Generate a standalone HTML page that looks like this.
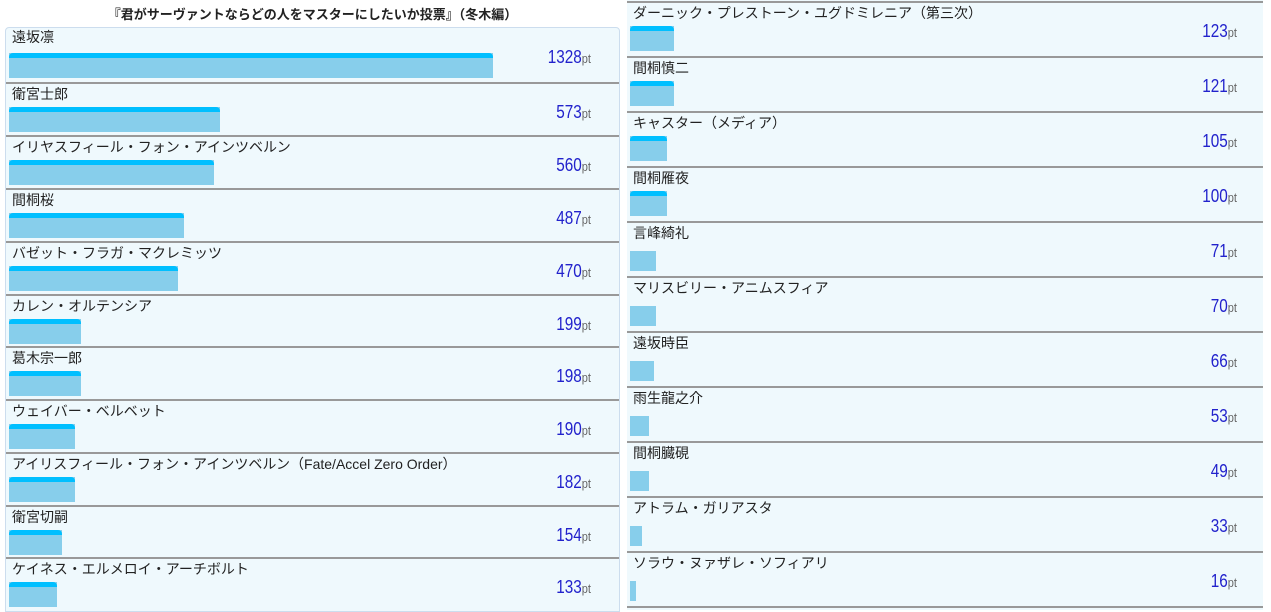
<!DOCTYPE html>
<html><head><meta charset="utf-8"><style>
body{margin:0;width:1271px;height:610px;background:#fff;position:relative;overflow:hidden;font-family:"Liberation Sans","Noto Sans CJK JP",sans-serif;}
.title{position:absolute;left:0;width:625px;top:4px;text-align:center;font-size:13px;color:#222;font-weight:bold;}
.panel{position:absolute;background:#eff9fd;}
.row{position:absolute;left:0;right:0;border-top:2px solid #999;}
.nm{position:absolute;left:6px;top:0px;font-size:14px;color:#222;white-space:nowrap;}
.bar{position:absolute;left:3px;top:23px;height:25px;background:#87ceeb;}
.bar.s::before{content:"";position:absolute;left:0;right:0;top:0;height:5px;background:#00bfff;border-radius:4px 4px 0 0;}
.v{position:absolute;top:18px;font-size:18px;color:#2222cc;white-space:nowrap;transform:scaleX(.85);transform-origin:right;text-align:right;width:80px;}
.v span{font-size:13px;color:#666;}
</style></head><body>
<div class="title">『君がサーヴァントならどの人をマスターにしたいか投票』（冬木編）</div>
<div class="panel" style="left:5px;top:27px;width:613px;height:583px;border:1px solid #cde;border-radius:4px 4px 0 0;">
<div class="row" style="top:-1px;border-top:none"><div class="nm">遠坂凛</div><div class="bar s" style="width:484px;top:26px"></div><div class="v" style="left:505px;top:20px">1328<span>pt</span></div></div>
<div class="row" style="top:54px"><div class="nm">衛宮士郎</div><div class="bar s" style="width:211px"></div><div class="v" style="left:505px">573<span>pt</span></div></div>
<div class="row" style="top:107px"><div class="nm">イリヤスフィール・フォン・アインツベルン</div><div class="bar s" style="width:205px"></div><div class="v" style="left:505px">560<span>pt</span></div></div>
<div class="row" style="top:160px"><div class="nm">間桐桜</div><div class="bar s" style="width:175px"></div><div class="v" style="left:505px">487<span>pt</span></div></div>
<div class="row" style="top:213px"><div class="nm">バゼット・フラガ・マクレミッツ</div><div class="bar s" style="width:169px"></div><div class="v" style="left:505px">470<span>pt</span></div></div>
<div class="row" style="top:266px"><div class="nm">カレン・オルテンシア</div><div class="bar s" style="width:72px"></div><div class="v" style="left:505px">199<span>pt</span></div></div>
<div class="row" style="top:318px"><div class="nm">葛木宗一郎</div><div class="bar s" style="width:72px"></div><div class="v" style="left:505px">198<span>pt</span></div></div>
<div class="row" style="top:371px"><div class="nm">ウェイバー・ベルベット</div><div class="bar s" style="width:66px"></div><div class="v" style="left:505px">190<span>pt</span></div></div>
<div class="row" style="top:424px"><div class="nm">アイリスフィール・フォン・アインツベルン（Fate/Accel Zero Order）</div><div class="bar s" style="width:66px"></div><div class="v" style="left:505px">182<span>pt</span></div></div>
<div class="row" style="top:477px"><div class="nm">衛宮切嗣</div><div class="bar s" style="width:53px"></div><div class="v" style="left:505px">154<span>pt</span></div></div>
<div class="row" style="top:529px"><div class="nm">ケイネス・エルメロイ・アーチボルト</div><div class="bar s" style="width:48px"></div><div class="v" style="left:505px">133<span>pt</span></div></div>
</div>
<div class="panel" style="left:627px;top:0;width:636px;height:610px;">
<div class="row" style="top:1px"><div class="nm">ダーニック・プレストーン・ユグドミレニア（第三次）</div><div class="bar s" style="width:44px"></div><div class="v" style="left:530px">123<span>pt</span></div></div>
<div class="row" style="top:56px"><div class="nm">間桐慎二</div><div class="bar s" style="width:44px"></div><div class="v" style="left:530px">121<span>pt</span></div></div>
<div class="row" style="top:111px"><div class="nm">キャスター（メディア）</div><div class="bar s" style="width:37px"></div><div class="v" style="left:530px">105<span>pt</span></div></div>
<div class="row" style="top:166px"><div class="nm">間桐雁夜</div><div class="bar s" style="width:37px"></div><div class="v" style="left:530px">100<span>pt</span></div></div>
<div class="row" style="top:221px"><div class="nm">言峰綺礼</div><div class="bar" style="width:26px;top:28px;height:20px"></div><div class="v" style="left:530px">71<span>pt</span></div></div>
<div class="row" style="top:276px"><div class="nm">マリスビリー・アニムスフィア</div><div class="bar" style="width:26px;top:28px;height:20px"></div><div class="v" style="left:530px">70<span>pt</span></div></div>
<div class="row" style="top:331px"><div class="nm">遠坂時臣</div><div class="bar" style="width:24px;top:28px;height:20px"></div><div class="v" style="left:530px">66<span>pt</span></div></div>
<div class="row" style="top:386px"><div class="nm">雨生龍之介</div><div class="bar" style="width:19px;top:28px;height:20px"></div><div class="v" style="left:530px">53<span>pt</span></div></div>
<div class="row" style="top:441px"><div class="nm">間桐臓硯</div><div class="bar" style="width:19px;top:28px;height:20px"></div><div class="v" style="left:530px">49<span>pt</span></div></div>
<div class="row" style="top:496px"><div class="nm">アトラム・ガリアスタ</div><div class="bar" style="width:12px;top:28px;height:20px"></div><div class="v" style="left:530px">33<span>pt</span></div></div>
<div class="row" style="top:551px"><div class="nm">ソラウ・ヌァザレ・ソフィアリ</div><div class="bar" style="width:6px;top:28px;height:20px"></div><div class="v" style="left:530px">16<span>pt</span></div></div>
<div class="row" style="top:606px"></div>
</div>
</body></html>
